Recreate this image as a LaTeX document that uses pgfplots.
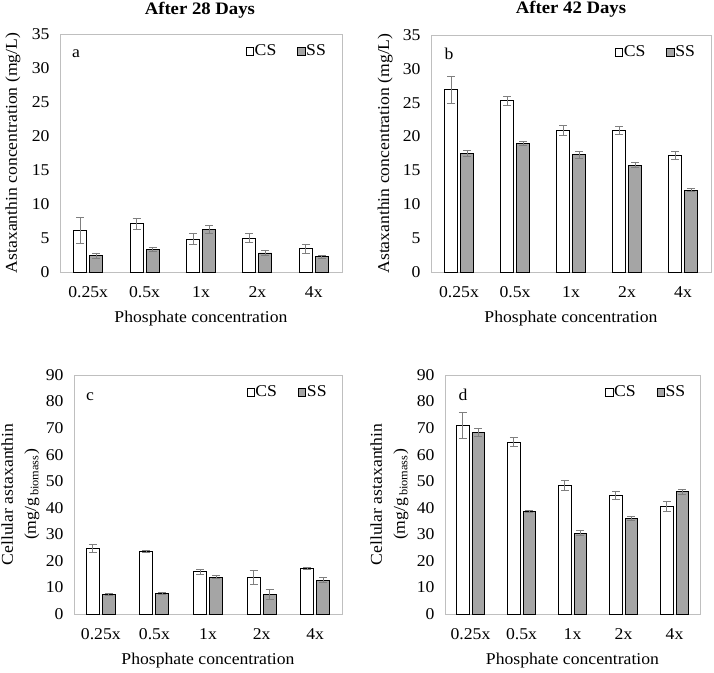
\documentclass[border=0pt]{standalone}
\usepackage{fontspec}
\setmainfont{Liberation Serif}[FakeStretch=1.07]
\usepackage{pgfplots}
\pgfplotsset{compat=1.18}
\definecolor{ssgray}{HTML}{A5A5A5}
\definecolor{framegray}{HTML}{BFBFBF}
\definecolor{errgray}{HTML}{7F7F7F}
\newcommand{\fs}{\fontsize{16.5}{19}\selectfont}
\pgfplotsset{
 panel/.style={
  scale only axis, ybar=3pt, bar width=13pt,
  xmin=-0.5, xmax=4.5, ymin=0,
  xtick={0,...,4}, xticklabels={0.25x,0.5x,1x,2x,4x},
  major tick length=0pt, minor tick length=0pt,
  axis line style={framegray, line width=0.9pt},
  tick label style={font=\fs},
  /pgf/number format/assume math mode=true,
  xticklabel style={yshift=-11pt},
  yticklabel style={xshift=-7pt},
  xlabel={Phosphate concentration},
  every axis x label/.style={at={(axis description cs:0.5,-0.195)}, anchor=center, font=\fs},
  legend style={draw=none, fill=none, legend columns=2, font=\fs,
    /tikz/every even column/.append style={column sep=20pt},
    inner sep=0pt, nodes={inner sep=1pt}},
  legend image code/.code={\draw[#1, line width=0.6pt] (0pt,-4pt) rectangle (7.3pt,3.3pt);},
  clip=false,
 },
 eb/.style={error bars/.cd, y dir=both, y explicit,
   error bar style={errgray, line width=0.9pt},
   error mark options={rotate=90, errgray, mark size=4pt, line width=0.9pt}},
 cs/.style={fill=white, draw=black, line width=0.9pt, eb},
 ss/.style={fill=ssgray, draw=black, line width=0.9pt, eb},
 top/.style={ymax=35, ytick={0,5,...,35}},
 bot/.style={ymax=90, ytick={0,10,...,90}},
}
\begin{document}
\begin{tikzpicture}
\useasboundingbox[fill=white] (0pt,0pt) rectangle (714pt,672pt);
% ---------- a ----------
\begin{axis}[panel, top, at={(60pt,400pt)}, anchor=south west, width=282pt, height=238pt,
  ylabel={Astaxanthin concentration (mg/L)},
  every axis y label/.style={at={(axis description cs:-0.167,0.5)}, rotate=90, anchor=center, font=\fs},
  legend style={at={(axis description cs:0.947,0.929)}, anchor=east}]
\addplot[cs] coordinates {(0,6.05) +- (0,1.9) (1,7.1) +- (0,0.8) (2,4.85) +- (0,0.75) (3,5.0) +- (0,0.7) (4,3.4) +- (0,0.6)};
\addplot[ss] coordinates {(0,2.4) +- (0,0.4) (1,3.3) +- (0,0.35) (2,6.2) +- (0,0.6) (3,2.8) +- (0,0.35) (4,2.25) +- (0,0.2)};
\legend{CS,SS}
\node[font=\fs] at (axis description cs:0.057,0.916) {a};
\node[font=\bfseries\fontsize{17.5}{20}\selectfont, anchor=base, inner sep=0pt] at (axis description cs:0.496,1.084) {After 28 Days};
\end{axis}
% ---------- b ----------
\begin{axis}[panel, top, at={(431pt,400pt)}, anchor=south west, width=280pt, height=237pt,
  ylabel={Astaxanthin concentration (mg/L)},
  every axis y label/.style={at={(axis description cs:-0.164,0.5)}, rotate=90, anchor=center, font=\fs},
  legend style={at={(axis description cs:0.947,0.929)}, anchor=east}]
\addplot[cs] coordinates {(0,26.9) +- (0,1.95) (1,25.3) +- (0,0.65) (2,20.9) +- (0,0.7) (3,20.85) +- (0,0.6) (4,17.2) +- (0,0.6)};
\addplot[ss] coordinates {(0,17.5) +- (0,0.45) (1,19.0) +- (0,0.3) (2,17.3) +- (0,0.5) (3,15.8) +- (0,0.35) (4,12.1) +- (0,0.25)};
\legend{CS,SS}
\node[font=\fs] at (axis description cs:0.064,0.92) {b};
\node[font=\bfseries\fontsize{17.5}{20}\selectfont, anchor=base, inner sep=0pt] at (axis description cs:0.5,1.0886) {After 42 Days};
\end{axis}
% ---------- c ----------
\begin{axis}[panel, bot, at={(74pt,58pt)}, anchor=south west, width=268pt, height=239pt,
  ylabel={Cellular astaxanthin\\(mg/g\textsubscript{\,biomass})},
  every axis y label/.style={at={(axis description cs:-0.2,0.5)}, rotate=90, anchor=center, align=center, font=\fontsize{16.5}{23}\selectfont},
  legend style={at={(axis description cs:0.947,0.929)}, anchor=east}]
\addplot[cs] coordinates {(0,24.7) +- (0,1.6) (1,23.4) +- (0,0.4) (2,15.9) +- (0,0.9) (3,13.9) +- (0,2.6) (4,17.2) +- (0,0.5)};
\addplot[ss] coordinates {(0,7.3) +- (0,0.5) (1,7.9) +- (0,0.4) (2,13.9) +- (0,0.6) (3,7.5) +- (0,1.9) (4,12.8) +- (0,1.1)};
\legend{CS,SS}
\node[font=\fs] at (axis description cs:0.06,0.908) {c};
\end{axis}
% ---------- d ----------
\begin{axis}[panel, bot, at={(445pt,58pt)}, anchor=south west, width=255pt, height=239pt, bar width=12.5pt,
  ylabel={Cellular astaxanthin\\(mg/g\textsubscript{\,biomass})},
  every axis y label/.style={at={(axis description cs:-0.218,0.5)}, rotate=90, anchor=center, align=center, font=\fontsize{16.5}{23}\selectfont},
  legend style={at={(axis description cs:0.947,0.929)}, anchor=east}]
\addplot[cs] coordinates {(0,71.0) +- (0,5.0) (1,64.75) +- (0,1.7) (2,48.5) +- (0,1.9) (3,44.6) +- (0,1.5) (4,40.5) +- (0,1.7)};
\addplot[ss] coordinates {(0,68.4) +- (0,1.6) (1,38.75) +- (0,0.4) (2,30.5) +- (0,1.1) (3,36.0) +- (0,0.8) (4,46.1) +- (0,0.9)};
\legend{CS,SS}
\node[font=\fs] at (axis description cs:0.071,0.916) {d};
\end{axis}
\end{tikzpicture}
\end{document}
